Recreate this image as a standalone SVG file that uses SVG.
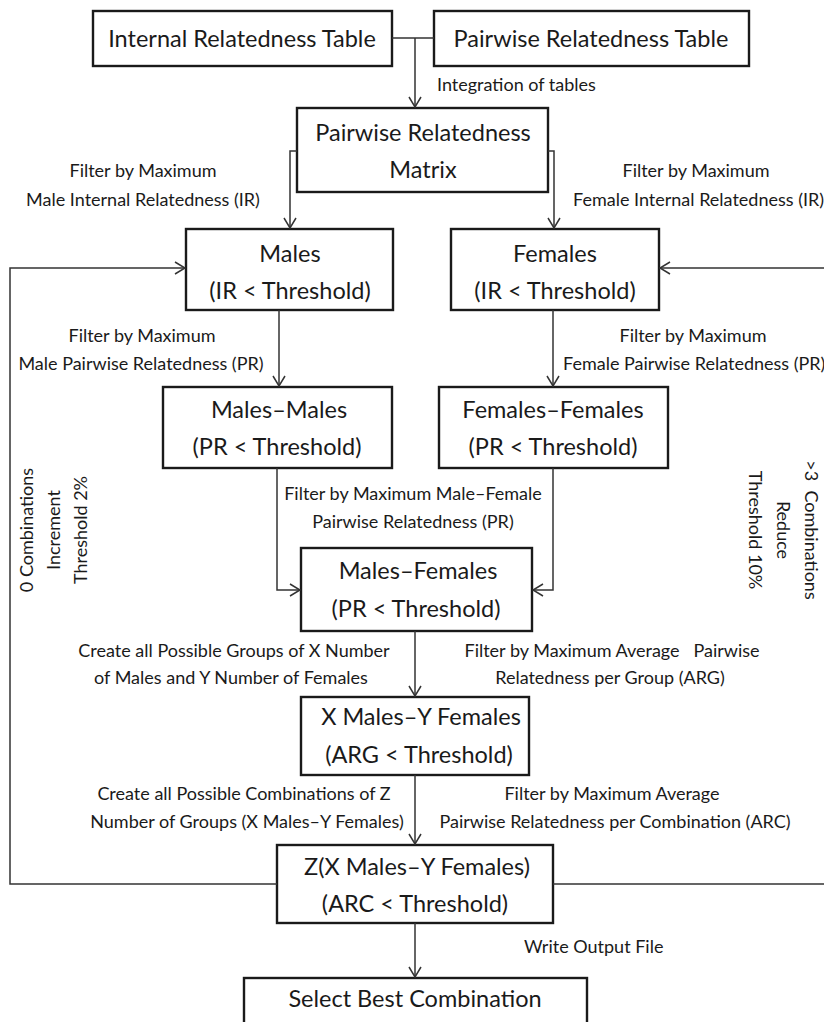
<svg xmlns="http://www.w3.org/2000/svg" width="824" height="1022" viewBox="0 0 824 1022">
<style>
.box{fill:#fff;stroke:#1a1a1a;stroke-width:2.4}
.big{font-family:Lato,"Open Sans",sans-serif;font-size:23.5px;fill:#1a1a1a;text-anchor:middle}
.lbl{font-family:Lato,"Open Sans",sans-serif;font-size:18px;fill:#1a1a1a}
.c{text-anchor:middle}
.ln{fill:none;stroke:#333;stroke-width:1.5}
</style>
<defs>
<marker id="ah" markerWidth="12" markerHeight="14" refX="11" refY="7" orient="auto" markerUnits="userSpaceOnUse">
<path d="M1,1 L11,7 L1,13" fill="none" stroke="#333" stroke-width="1.5"/>
</marker>
</defs>
<rect width="824" height="1022" fill="#fff"/>
<g id="internal"><rect class="box" x="93" y="11" width="299" height="55"/><text class="big" x="242" y="47">Internal Relatedness Table</text></g>
<g id="pairwise"><rect class="box" x="434" y="11" width="315" height="55"/><text class="big" x="591" y="47">Pairwise Relatedness Table</text></g>
<g id="matrix"><rect class="box" x="297" y="108" width="251" height="84"/><text class="big" x="423" y="141">Pairwise Relatedness</text><text class="big" x="423" y="178">Matrix</text></g>
<g id="males"><rect class="box" x="186" y="229" width="207" height="81"/><text class="big" x="290" y="262">Males</text><text class="big" x="290" y="299">(IR &lt; Threshold)</text></g>
<g id="females"><rect class="box" x="451" y="229" width="208" height="81"/><text class="big" x="555" y="262">Females</text><text class="big" x="555" y="299">(IR &lt; Threshold)</text></g>
<g id="mm"><rect class="box" x="163" y="387" width="229" height="81"/><text class="big" x="279" y="418">Males–Males</text><text class="big" x="277" y="455">(PR &lt; Threshold)</text></g>
<g id="ff"><rect class="box" x="439" y="387" width="229" height="81"/><text class="big" x="553" y="418">Females–Females</text><text class="big" x="553" y="455">(PR &lt; Threshold)</text></g>
<g id="mf"><rect class="box" x="301" y="548" width="231" height="83"/><text class="big" x="418" y="579">Males–Females</text><text class="big" x="416" y="617">(PR &lt; Threshold)</text></g>
<g id="xy"><rect class="box" x="301" y="697" width="228" height="78"/><text class="big" x="421" y="725">X Males–Y Females</text><text class="big" x="419" y="763">(ARG &lt; Threshold)</text></g>
<g id="z"><rect class="box" x="277" y="845" width="276" height="78"/><text class="big" x="417" y="875">Z(X Males–Y Females)</text><text class="big" x="415" y="912">(ARC &lt; Threshold)</text></g>
<g id="select"><rect class="box" x="244" y="978" width="343" height="60"/><text class="big" x="415" y="1007">Select Best Combination</text></g>
<g id="connectors">
<path class="ln" d="M392,38 H434 M415,38 V107" marker-end="url(#ah)"/>
<path class="ln" d="M297,151 H290 V228" marker-end="url(#ah)"/>
<path class="ln" d="M548,151 H554 V228" marker-end="url(#ah)"/>
<path class="ln" d="M279,310 V386" marker-end="url(#ah)"/>
<path class="ln" d="M553,310 V386" marker-end="url(#ah)"/>
<path class="ln" d="M277,468 V590 H300" marker-end="url(#ah)"/>
<path class="ln" d="M553,468 V590 H533" marker-end="url(#ah)"/>
<path class="ln" d="M415,631 V696" marker-end="url(#ah)"/>
<path class="ln" d="M415,775 V844" marker-end="url(#ah)"/>
<path class="ln" d="M415,923 V977" marker-end="url(#ah)"/>
<path class="ln" d="M277,884 H10 V268 H185" marker-end="url(#ah)"/>
<path class="ln" d="M553,884 H824 M824,268 H660" marker-end="url(#ah)"/>
<text class="lbl" x="437" y="91">Integration of tables</text>
<text class="lbl c" x="143" y="177">Filter by Maximum</text>
<text class="lbl c" x="143" y="206">Male Internal Relatedness (IR)</text>
<text class="lbl c" x="696" y="177">Filter by Maximum</text>
<text class="lbl" x="573" y="206">Female Internal Relatedness (IR)</text>
<text class="lbl c" x="142" y="342">Filter by Maximum</text>
<text class="lbl c" x="141" y="370">Male Pairwise Relatedness (PR)</text>
<text class="lbl c" x="693" y="342">Filter by Maximum</text>
<text class="lbl" x="563" y="370">Female Pairwise Relatedness (PR)</text>
<text class="lbl c" x="413" y="500">Filter by Maximum Male–Female</text>
<text class="lbl c" x="413" y="528">Pairwise Relatedness (PR)</text>
<text class="lbl c" x="234" y="657">Create all Possible Groups of X Number</text>
<text class="lbl c" x="231" y="684">of Males and Y Number of Females</text>
<text class="lbl c" x="612" y="657" xml:space="preserve">Filter by Maximum Average   Pairwise</text>
<text class="lbl c" x="610" y="684">Relatedness per Group (ARG)</text>
<text class="lbl c" x="244" y="800">Create all Possible Combinations of Z</text>
<text class="lbl c" x="247" y="828">Number of Groups (X Males–Y Females)</text>
<text class="lbl c" x="612" y="800">Filter by Maximum Average</text>
<text class="lbl c" x="615" y="828">Pairwise Relatedness per Combination (ARC)</text>
<text class="lbl" x="524" y="953">Write Output File</text>
<g transform="translate(33,530) rotate(-90)">
<text class="lbl c" x="0" y="0">0 Combinations</text>
<text class="lbl c" x="0" y="27">Increment</text>
<text class="lbl c" x="0" y="54">Threshold 2%</text>
</g>
<g transform="translate(805,530) rotate(90)">
<text class="lbl c" x="0" y="0" xml:space="preserve">&gt;3  Combinations</text>
<text class="lbl c" x="0" y="28">Reduce</text>
<text class="lbl c" x="0" y="56">Threshold 10%</text>
</g>
</g>
</svg>
